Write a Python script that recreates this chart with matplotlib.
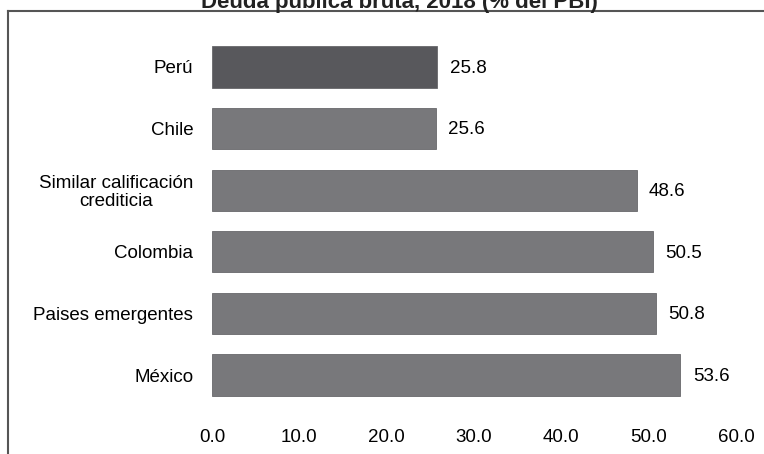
import matplotlib.pyplot as plt
from matplotlib.lines import Line2D

plt.rcParams['font.family'] = ['Liberation Sans', 'DejaVu Sans']

# Deuda pública bruta 2018, % del PBI
paises = ['Perú', 'Chile', 'Similar calificación\ncrediticia', 'Colombia',
          'Paises emergentes', 'México']
deuda = [25.8, 25.6, 48.6, 50.5, 50.8, 53.6]
colores = ['#58585c', '#78787b', '#78787b', '#78787b', '#78787b', '#78787b']
ticks_x = [0, 10, 20, 30, 40, 50, 60]

fig = plt.figure(figsize=(7.64, 4.54), dpi=100)
ax = fig.add_axes([0.2775, 0.0925, 0.686, 0.8415])

pos = range(len(paises))
ax.barh(pos, deuda, height=0.67, color=colores, edgecolor='#68686b', linewidth=0.6)
for y, v in zip(pos, deuda):
    ax.annotate(f'{v:.1f}', (v, y), xytext=(9, -1), textcoords='offset points',
                va='center', ha='left', fontsize=13.5)

ax.set_yticks(list(pos))
ax.set_yticklabels(paises, fontsize=13.5, multialignment='center', linespacing=1.1)
ax.set_ylim(5.6, -0.6)
ax.set_xlim(0, 60)
ax.set_xticks(ticks_x)
ax.set_xticklabels([f'{t:.1f}' for t in ticks_x], fontsize=13.5)
ax.tick_params(length=0)
ax.tick_params(axis='y', pad=13.5)
ax.tick_params(axis='x', pad=12)
for s in ax.spines.values():
    s.set_visible(False)

# recuadro del gráfico
fig.add_artist(Line2D([8 / 764, 1], [1 - 11 / 454, 1 - 11 / 454],
                      transform=fig.transFigure, color='#555555', lw=1.5))
fig.add_artist(Line2D([8 / 764, 8 / 764], [0, 1 - 11 / 454],
                      transform=fig.transFigure, color='#555555', lw=1.5))

# título (recortado por el borde superior)
fig.text(399 / 764, 1 - 8 / 454, 'Deuda pública bruta, 2018 (% del PBI)',
         ha='center', va='baseline', fontsize=16, fontweight='bold', color='#222222')

fig.savefig('out.png', dpi=100)
